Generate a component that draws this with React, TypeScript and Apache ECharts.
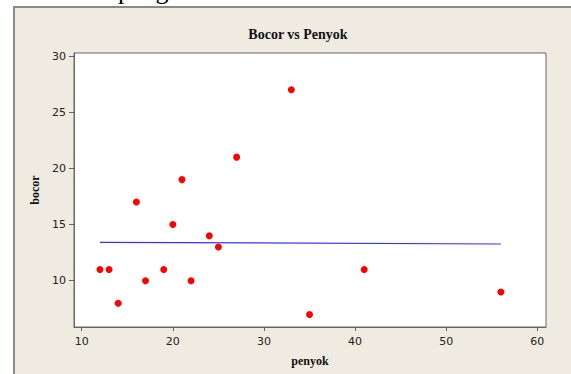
import React, { useEffect, useRef } from "react";
import * as echarts from "echarts";

// Observed pairs: dents (penyok) vs leaks (bocor)
const penyok = [12, 13, 14, 16, 17, 19, 20, 21, 22, 24, 25, 27, 33, 35, 41, 56];
const bocor = [11, 11, 8, 17, 10, 11, 15, 19, 10, 14, 13, 21, 27, 7, 11, 9];

const xTicks = [10, 20, 30, 40, 50, 60];
const yTicks = [10, 15, 20, 25, 30];

// Least-squares fit of bocor on penyok
function fitLine(xs: number[], ys: number[]) {
  const n = xs.length;
  const mx = xs.reduce((a, b) => a + b, 0) / n;
  const my = ys.reduce((a, b) => a + b, 0) / n;
  let sxy = 0;
  let sxx = 0;
  for (let i = 0; i < n; i++) {
    sxy += (xs[i] - mx) * (ys[i] - my);
    sxx += (xs[i] - mx) * (xs[i] - mx);
  }
  const slope = sxy / sxx;
  const intercept = my - slope * mx;
  const x0 = Math.min(...xs);
  const x1 = Math.max(...xs);
  return [
    [x0, intercept + slope * x0],
    [x1, intercept + slope * x1],
  ];
}

const labelFont = "DejaVu Sans";
const serif = "Liberation Serif";

export default function App() {
  const ref = useRef<HTMLDivElement>(null);

  useEffect(() => {
    document.body.style.margin = "0";
    if (!ref.current) return;
    const chart = echarts.init(ref.current, undefined, { renderer: "svg" });
    const points = penyok.map((x, i) => [x, bocor[i]]);

    chart.setOption({
      animation: false,
      backgroundColor: "transparent",
      title: {
        text: "Bocor vs Penyok",
        left: 293,
        top: 22,
        textAlign: "center",
        textStyle: {
          fontFamily: serif,
          fontWeight: "bold",
          fontSize: 14,
          color: "#111",
        },
      },
      graphic: [
        {
          type: "text",
          x: 46,
          y: 3,
          style: {
            text: "Data hasil",
            font: `26px "${serif}"`,
            fill: "#000",
            align: "right",
            verticalAlign: "bottom",
          },
        },
        {
          type: "text",
          x: 118,
          y: 3,
          style: {
            text: "pengamatan",
            font: `26px "${serif}"`,
            fill: "#000",
            align: "left",
            verticalAlign: "bottom",
          },
        },
      ],
      grid: {
        left: 74,
        top: 53,
        right: 25,
        bottom: 47,
        show: true,
        backgroundColor: "#ffffff",
        borderColor: "#666",
        borderWidth: 1,
      },
      xAxis: {
        type: "value",
        min: 9.15,
        max: 60.95,
        name: "penyok",
        nameLocation: "middle",
        nameGap: 28,
        nameTextStyle: {
          fontFamily: serif,
          fontWeight: "bold",
          fontSize: 12,
          color: "#111",
        },
        axisLine: { show: true, lineStyle: { color: "#666" } },
        axisTick: {
          show: true,
          customValues: xTicks,
          length: 4,
          lineStyle: { color: "#666" },
        },
        axisLabel: {
          customValues: xTicks,
          fontFamily: labelFont,
          fontSize: 11,
          color: "#222",
          margin: 9,
        },
        splitLine: { show: false },
      },
      yAxis: {
        type: "value",
        min: 5.88,
        max: 30.27,
        name: "bocor",
        nameLocation: "middle",
        nameGap: 31,
        nameTextStyle: {
          fontFamily: serif,
          fontWeight: "bold",
          fontSize: 12,
          color: "#111",
        },
        axisLine: { show: true, lineStyle: { color: "#666" } },
        axisTick: {
          show: true,
          customValues: yTicks,
          length: 5,
          lineStyle: { color: "#666" },
        },
        axisLabel: {
          customValues: yTicks,
          fontFamily: labelFont,
          fontSize: 11,
          color: "#222",
          margin: 8,
        },
        splitLine: { show: false },
      },
      series: [
        {
          type: "line",
          data: fitLine(penyok, bocor),
          showSymbol: false,
          symbol: "none",
          lineStyle: { color: "#3434f2", width: 1.2 },
          silent: true,
          z: 1,
        },
        {
          type: "scatter",
          data: points,
          symbol: "circle",
          symbolSize: 7,
          itemStyle: { color: "#ff0000", opacity: 1 },
          z: 2,
        },
      ],
    });

    return () => chart.dispose();
  }, []);

  return (
    <div style={{ position: "relative", width: 571, height: 374, overflow: "hidden", background: "#fff" }}>
      <div
        style={{
          position: "absolute",
          left: 13,
          top: 6,
          width: 600,
          height: 400,
          background: "#efebe1",
          borderTop: "2px solid #8d8a85",
          borderLeft: "2px solid #8d8a85",
        }}
      />
      <div ref={ref} style={{ position: "absolute", left: 0, top: 0, width: 571, height: 374 }} />
    </div>
  );
}
